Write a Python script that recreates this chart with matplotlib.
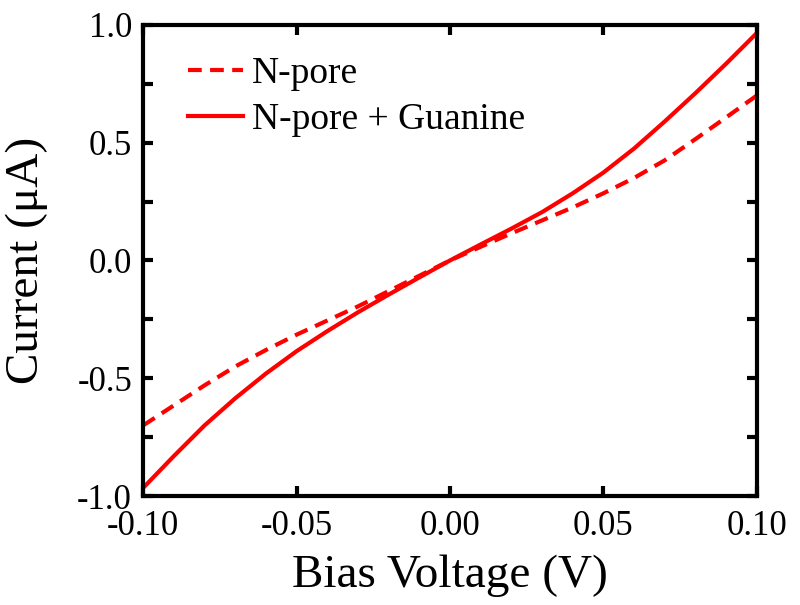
import numpy as np
import matplotlib.pyplot as plt
from matplotlib.ticker import MultipleLocator, FormatStrFormatter

# Bias voltage (V)
voltage = [-0.10, -0.09, -0.08, -0.07, -0.06, -0.05, -0.04, -0.03, -0.02, -0.01, 0.0,
           0.01, 0.02, 0.03, 0.04, 0.05, 0.06, 0.07, 0.08, 0.09, 0.10]

# Current (uA)
npore = [-0.70, -0.615, -0.53, -0.45, -0.38, -0.315, -0.255, -0.195, -0.13, -0.065, 0.0,
         0.058, 0.115, 0.17, 0.225, 0.285, 0.35, 0.425, 0.515, 0.607, 0.70]
npore_guanine = [-0.965, -0.83, -0.70, -0.585, -0.48, -0.385, -0.30, -0.22, -0.145, -0.072, 0.0,
                 0.068, 0.135, 0.205, 0.285, 0.373, 0.475, 0.59, 0.71, 0.835, 0.965]

plt.rcParams['font.family'] = ['Liberation Serif', 'DejaVu Serif']
plt.rcParams['axes.unicode_minus'] = False

fig = plt.figure(figsize=(8, 6.05), dpi=100)
ax = fig.add_axes([0.179, 0.180, 0.767, 0.779])

ax.plot(voltage, npore, color='red', lw=3, ls=(0, (3.3, 2)), label='N-pore')
ax.plot(voltage, npore_guanine, color='red', lw=3, label='N-pore + Guanine')

ax.set_xlim(-0.1, 0.1)
ax.set_ylim(-1.0, 1.0)
ax.xaxis.set_major_locator(MultipleLocator(0.05))
ax.yaxis.set_major_locator(MultipleLocator(0.5))
ax.yaxis.set_minor_locator(MultipleLocator(0.25))
ax.xaxis.set_major_formatter(FormatStrFormatter('%.2f'))
ax.yaxis.set_major_formatter(FormatStrFormatter('%.1f'))

ax.tick_params(which='both', direction='in', top=True, right=True,
               width=3, labelsize=25)
ax.tick_params(which='major', length=7, pad=8)
ax.tick_params(axis='x', which='major', pad=10)
ax.tick_params(which='minor', length=7)
for s in ax.spines.values():
    s.set_linewidth(3)

ax.set_xlabel('Bias Voltage (V)', fontsize=34, labelpad=8)
ax.set_ylabel('Current (\u03bcA)', fontsize=34, labelpad=21)

ax.legend(loc='upper left', bbox_to_anchor=(0.049, 0.964), borderaxespad=0,
          frameon=False, fontsize=27, handlelength=1.45,
          handletextpad=0.25, labelspacing=0.3)

fig.savefig('out.png', dpi=100)
